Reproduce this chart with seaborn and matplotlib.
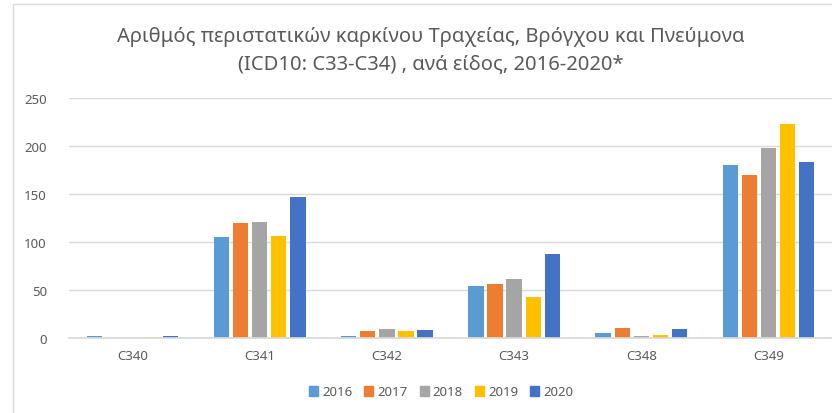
import pandas as pd
import seaborn as sns
import matplotlib
matplotlib.use('Agg')
import matplotlib.pyplot as plt
from matplotlib.patches import Rectangle

# Data
codes = ['C340', 'C341', 'C342', 'C343', 'C348', 'C349']
years = ['2016', '2017', '2018', '2019', '2020']
v2016 = [2, 105, 2, 54, 5, 180]
v2017 = [0, 120, 7, 56, 10, 170]
v2018 = [0, 121, 9, 61, 2, 198]
v2019 = [1, 106, 7, 43, 3, 223]
v2020 = [2, 147, 8, 88, 9, 183]
colors = ['#5B9BD5', '#ED7D31', '#A5A5A5', '#FFC000', '#4472C4']

series = [v2016, v2017, v2018, v2019, v2020]
rows = []
for y, vals in zip(years, series):
    for c, v in zip(codes, vals):
        rows.append({'code': c, 'year': y, 'count': v})
df = pd.DataFrame(rows)

sns.set_theme(style='white')
plt.rcParams['font.family'] = ['Noto Sans', 'DejaVu Sans']

fig = plt.figure(figsize=(8.32, 4.14), dpi=100)
ax = fig.add_axes([69/832, 75/414, 763/832, 240/414])

sns.barplot(data=df, x='code', y='count', hue='year', palette=colors,
            saturation=1, width=0.75, gap=0.2, linewidth=0,
            legend=False, ax=ax)

ax.set_ylim(0, 250)
ax.set_yticks([0, 50, 100, 150, 200, 250])
ax.yaxis.grid(True, color='#d9d9d9', linewidth=1)
ax.set_axisbelow(True)
for s in ['top', 'right', 'left']:
    ax.spines[s].set_visible(False)
ax.spines['bottom'].set_color('#d9d9d9')
ax.set_xlabel('')
ax.set_ylabel('')
ax.tick_params(axis='both', length=0, colors='#595959', labelsize=9.5)
ax.tick_params(axis='y', pad=16)
ax.tick_params(axis='x', pad=8)

fig.text(431/832, 1 - 37/414, 'Αριθμός περιστατικών καρκίνου Τραχείας, Βρόγχου και Πνεύμονα',
         ha='center', va='center', fontsize=14.5, color='#595959')
fig.text(431/832, 1 - 64/414, '(ICD10: C33-C34) , ανά είδος, 2016-2020*',
         ha='center', va='center', fontsize=14.5, color='#595959')

handles = [Rectangle((0, 0), 1, 1, color=c) for c in colors]
fig.legend(handles, years, loc='center', bbox_to_anchor=(441/832, 1 - 393/414),
           ncol=5, frameon=False, handlelength=0.7, handleheight=0.7,
           handletextpad=0.3, columnspacing=0.9, fontsize=9.5,
           labelcolor='#595959')

# chart-area border
fig.patches.append(Rectangle((13/832, -0.1), 1.0, 0.1 + 1 - 5/414,
                             transform=fig.transFigure, fill=False,
                             edgecolor='#d9d9d9', linewidth=1))

fig.savefig('out.png', dpi=100)
